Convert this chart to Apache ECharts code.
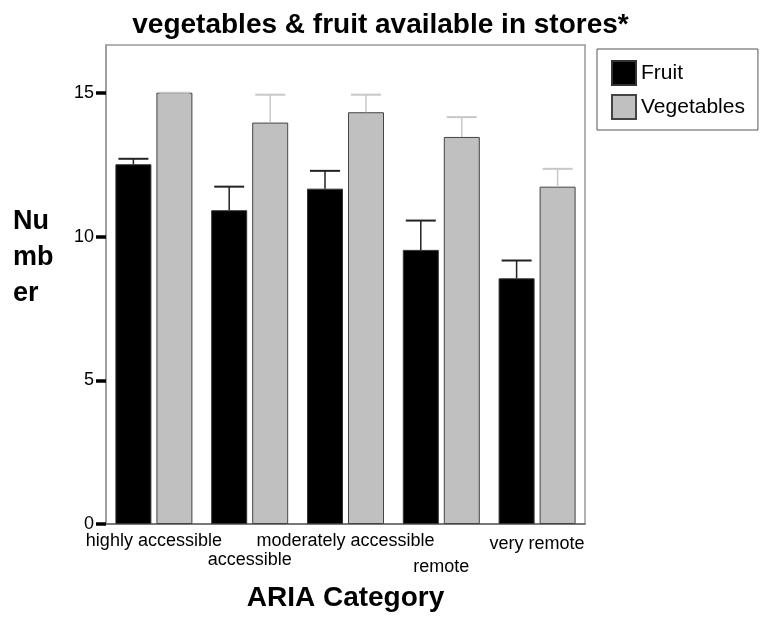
<!DOCTYPE html>
<html>
<head>
<meta charset="utf-8">
<script src="https://cdn.jsdelivr.net/npm/echarts@6/dist/echarts.min.js"></script>
<style>
  html, body { margin: 0; padding: 0; background: #fff; }
  #chart { width: 761px; height: 617px; }
</style>
</head>
<body>
<div id="chart"></div>
<script>
var categories = ['highly accessible', 'accessible', 'moderately accessible', 'remote', 'very remote'];
var fruit = [12.52, 10.92, 11.67, 9.54, 8.55];
var fruitErr = [0.19, 0.82, 0.62, 1.02, 0.62];
var veg = [15.01, 13.97, 14.33, 13.47, 11.74];
var vegErr = [0, 0.97, 0.61, 0.69, 0.62];
var yTicks = [0, 5, 10, 15];

// how far each category label is pushed down (staggered like the original)
var labelDrop = [0, 19, 0, 26, 3];

var FONT = '"Liberation Sans", Arial, sans-serif';
var BAR_W = 36, BAR_GAP = 5;

function errorBars(values, errs, offset, color) {
    return {
        type: 'custom',
        z: 5,
        silent: true,
        renderItem: function (params, api) {
            var i = api.value(0), v = api.value(1), e = api.value(2);
            var base = api.coord([i, v]);
            var top = api.coord([i, v + e]);
            var x = base[0] + offset;
            return {
                type: 'group',
                children: [
                    { type: 'line', shape: { x1: x, y1: base[1], x2: x, y2: top[1] }, style: { stroke: color, lineWidth: 1.5 } },
                    { type: 'line', shape: { x1: x - 15, y1: top[1], x2: x + 15, y2: top[1] }, style: { stroke: color, lineWidth: 2 } }
                ]
            };
        },
        encode: { x: 0, y: 1 },
        data: values.map(function (v, i) { return [i, v, errs[i]]; })
    };
}

// one rich style per label: taller line, text sits at its bottom
var richLabels = {};
labelDrop.forEach(function (d, i) {
    richLabels['r' + i] = { fontSize: 18, lineHeight: 20 + d, verticalAlign: 'bottom', color: '#000', fontFamily: FONT };
});

var chart = echarts.init(document.getElementById('chart'));
var off = (BAR_W + BAR_GAP) / 2;

chart.setOption({
    animation: false,
    backgroundColor: '#fff',
    textStyle: { fontFamily: FONT },
    title: {
        text: 'vegetables & fruit available in stores*',
        left: 'center',
        top: 6,
        textStyle: { fontFamily: FONT, fontSize: 28, fontWeight: 'bold', color: '#000' }
    },
    legend: {
        data: ['Fruit', 'Vegetables'],
        orient: 'vertical',
        left: 597,
        top: 49,
        padding: [11, 13, 10, 14],
        itemWidth: 24,
        itemHeight: 24,
        itemGap: 8,
        icon: 'rect',
        borderColor: '#555',
        borderWidth: 1,
        textStyle: { fontFamily: FONT, fontSize: 21, color: '#000' }
    },
    graphic: [{
        type: 'text',
        left: 13,
        top: 204,
        style: {
            text: 'Nu\nmb\ner',
            font: 'bold 27px ' + FONT,
            lineHeight: 36,
            fill: '#000'
        }
    }],
    grid: {
        left: 106, right: 176, top: 45, bottom: 93,
        show: true, borderColor: '#999', borderWidth: 1.5,
        containLabel: false,
        outerBoundsMode: 'none'
    },
    xAxis: {
        type: 'category',
        data: categories,
        name: 'ARIA Category',
        nameLocation: 'middle',
        nameGap: 60,
        nameTextStyle: { fontFamily: FONT, fontSize: 28, fontWeight: 'bold', color: '#000' },
        axisLine: { lineStyle: { color: '#666', width: 1.5 } },
        axisTick: { alignWithLabel: true, length: 8, lineStyle: { color: '#000', width: 3 } },
        axisLabel: {
            interval: 0,
            margin: 6,
            color: '#000',
            fontFamily: FONT,
            fontSize: 18,
            formatter: function (val, idx) { return '{r' + idx + '|' + val + '}'; },
            rich: richLabels
        },
        splitLine: { show: false }
    },
    yAxis: {
        type: 'value',
        min: 0,
        max: 16.67,
        interval: 5,
        axisLine: { show: true, lineStyle: { color: '#999', width: 1.5 } },
        axisTick: { show: true, length: 10, customValues: yTicks, lineStyle: { color: '#000', width: 3.5 } },
        axisLabel: { customValues: yTicks, margin: 12, color: '#000', fontFamily: FONT, fontSize: 18 },
        splitLine: { show: false }
    },
    series: [
        {
            name: 'Fruit',
            type: 'bar',
            barWidth: BAR_W,
            barGap: (BAR_GAP / BAR_W * 100).toFixed(1) + '%',
            itemStyle: { color: '#000', borderColor: '#333', borderWidth: 1 },
            data: fruit
        },
        {
            name: 'Vegetables',
            type: 'bar',
            barWidth: BAR_W,
            itemStyle: { color: '#c0c0c0', borderColor: '#444', borderWidth: 1 },
            data: veg
        },
        errorBars(fruit, fruitErr, -off, '#222'),
        errorBars(veg, vegErr, off, '#c8c8c8')
    ]
});
</script>
</body>
</html>
